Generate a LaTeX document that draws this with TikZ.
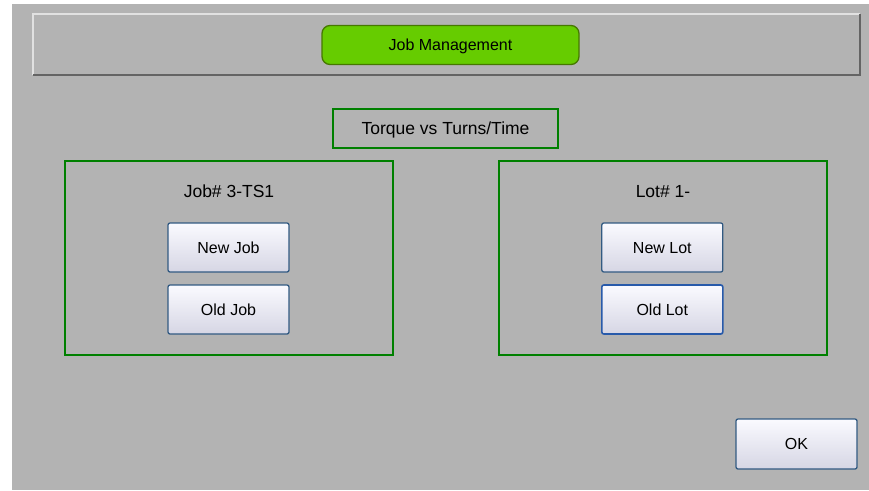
\documentclass[tikz,border=0pt]{standalone}
\usepackage{fontspec}
\setmainfont{Liberation Sans}
\definecolor{bg}{RGB}{179,179,179}
\definecolor{hmgreen}{RGB}{102,204,0}
\definecolor{hmgreendark}{RGB}{70,120,0}
\definecolor{panelgreen}{RGB}{0,128,0}
\definecolor{btnborder}{RGB}{50,90,130}
\definecolor{btnfocus}{RGB}{40,90,170}
\definecolor{btntop}{RGB}{250,250,255}
\definecolor{btnbot}{RGB}{214,214,228}
\definecolor{bevlight}{RGB}{225,225,225}
\definecolor{bevdark}{RGB}{100,100,100}
\tikzset{
  txt/.style={font=\fontsize{16}{19}\selectfont, text height=11.5pt, text depth=0pt, inner sep=0pt},
  lbl/.style={font=\fontsize{17.5}{21}\selectfont, text height=12.5pt, text depth=0pt, inner sep=0pt},
  greenbox/.style={draw=panelgreen, line width=2pt, inner sep=0pt},
  btn/.style={txt, draw=btnborder, line width=1.3pt, rounded corners=2pt, top color=btntop, bottom color=btnbot, minimum width=121pt, minimum height=49pt},
  titlebtn/.style={txt, draw=hmgreendark, line width=1.3pt, fill=hmgreen, rounded corners=8pt, minimum width=257pt, minimum height=39pt},
}
\begin{document}
\begin{tikzpicture}[x=1pt,y=-1pt]
\useasboundingbox (0,0) rectangle (869,490);
\fill[white] (0,0) rectangle (869,490);
\fill[bg] (12,4) rectangle (869,490);
% header panel
\node[minimum width=827pt, minimum height=61pt, inner sep=0pt] (header) at (446.5,44.5) {};
\draw[bevlight, line width=2pt] (header.south west) -- (header.north west) -- (header.north east);
\draw[bevdark, line width=2pt] (header.north east) -- (header.south east) -- (header.south west);
\node[titlebtn] (title) at (450.5,45) {Job Management};
% torque box
\node[greenbox, lbl, minimum width=225pt, minimum height=39pt] (torque) at (445.5,128.5) {Torque vs Turns/Time};
% panels
\node[greenbox, minimum width=328pt, minimum height=194pt] (jobpanel) at (229,258) {};
\node[greenbox, minimum width=328pt, minimum height=194pt] (lotpanel) at (663,258) {};
\node[lbl] (joblbl) at (229,191) {Job\# 3-TS1};
\node[lbl] (lotlbl) at (663,191) {Lot\# 1-};
% buttons
\node[btn] (newjob) at (228.5,247.5) {New Job};
\node[btn] (oldjob) at (228.5,309.5) {Old Job};
\node[btn] (newlot) at (662.3,247.5) {New Lot};
\node[btn, draw=btnfocus, line width=1.6pt] (oldlot) at (662.3,309.5) {Old Lot};
\node[btn, minimum height=50pt] (ok) at (796.5,444) {OK};
\end{tikzpicture}
\end{document}
